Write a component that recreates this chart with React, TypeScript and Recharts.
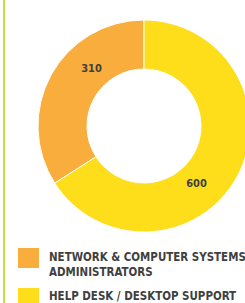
import React from 'react';
import { PieChart, Pie, Cell } from 'recharts';

const categories = ['NETWORK & COMPUTER SYSTEMS ADMINISTRATORS', 'HELP DESK / DESKTOP SUPPORT'];
const legendLines = [['NETWORK & COMPUTER SYSTEMS', 'ADMINISTRATORS'], ['HELP DESK / DESKTOP SUPPORT']];
const values = [310, 600];
const colors = ['#F9AD3D', '#FEDD1B'];

const data = categories.map((name, i) => ({ name, value: values[i] }));

const RADIAN = Math.PI / 180;

const renderLabel = (props: any) => {
    const { cx, cy, midAngle, value } = props;
    const r = 78;
    const a = (midAngle - 19) * RADIAN;
    const x = cx + r * Math.cos(a);
    const y = cy - r * Math.sin(a);
    return (
        <text x={x} y={y} fill="#3f3f3f" fontSize={11} fontWeight="bold" textAnchor="middle" dominantBaseline="central"
            fontFamily="'DejaVu Sans Condensed', 'DejaVu Sans', sans-serif">
            {value}
        </text>
    );
};

const App: React.FC = () => {
    return (
        <div style={{ position: 'absolute', left: 0, top: 0, width: 245, height: 303, background: '#fff', overflow: 'hidden', fontFamily: "'DejaVu Sans Condensed', 'DejaVu Sans', sans-serif" }}>
            <div style={{ position: 'absolute', left: 3, top: 0, width: 2, height: 303, background: '#C4DF3A' }} />
            <div style={{ position: 'absolute', left: 0, top: 0 }}>
                <PieChart width={245} height={240} margin={{ top: 0, right: 0, bottom: 0, left: 0 }}>
                    <Pie data={data} dataKey="value" cx={144} cy={126} innerRadius={57} outerRadius={106}
                        startAngle={90} endAngle={450} stroke="#fff" strokeWidth={1} label={renderLabel}
                        labelLine={false} isAnimationActive={false}>
                        {data.map((d, i) => <Cell key={d.name} fill={colors[i]} />)}
                    </Pie>
                </PieChart>
            </div>
            {legendLines.map((lines, i) => (
                <div key={i} style={{ position: 'absolute', left: 18, top: i === 0 ? 248 : 288, display: 'flex' }}>
                    <div style={{ width: 21, height: 20, background: colors[i], flexShrink: 0 }} />
                    <div style={{ marginLeft: 10, marginTop: i === 0 ? 1 : 0, color: '#404040', fontSize: 13, fontWeight: 'bold', lineHeight: '15px', whiteSpace: 'nowrap', transform: 'scaleX(0.88)', transformOrigin: 'left top' }}>
                        {lines.map(l => <div key={l}>{l}</div>)}
                    </div>
                </div>
            ))}
        </div>
    );
};

export default App;
